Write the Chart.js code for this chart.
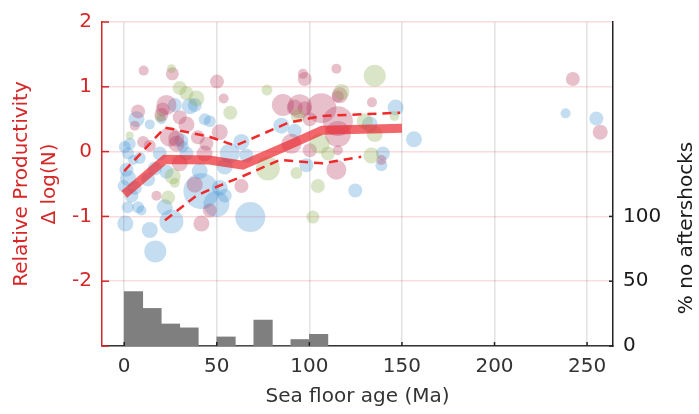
<!DOCTYPE html>
<html>
<head>
<meta charset="utf-8">
<script src="https://cdn.jsdelivr.net/npm/chart.js@4.4.1/dist/chart.umd.min.js"></script>
<style>
  html, body { margin: 0; padding: 0; background: #fff; }
  #wrap { width: 699px; height: 414px; }
</style>
</head>
<body>
<div id="wrap"><canvas id="chart" width="699" height="414"></canvas></div>
<script>
// --- data ---
const xTicks = [0, 50, 100, 150, 200, 250];
const yTicks = [-3, -2, -1, 0, 1, 2];
const pctTicks = [0, 50, 100];

// individual sequences, split by colour group (age Ma, delta log N, marker size)
const pinkAge  = [10.5, 26.0, 22.8, 20.8, 7.5, 5.7, 20.1, 33.6, 30.0, 24.6, 28.2, 39.8, 44.4, 10.2, 13.8, 50.1, 53.7, 96.5, 97.5, 85.7, 92.1, 97.5, 100.2, 51.6, 90.3, 100.2, 63.3, 46.2, 17.4, 38.1, 41.7, 114.6, 115.4, 133.8, 106.5, 115.4, 115.4, 115.4, 114.6, 138.9, 116.4, 94.8, 242.3, 257.1, 28.1, 30.0, 43.4];
const pinkProd = [1.25, 1.20, 0.72, 0.65, 0.62, 0.40, 0.57, 0.42, 0.53, 0.23, 0.12, 0.22, 0.12, 0.15, 0.09, 1.08, 0.82, 1.20, 1.12, 0.72, 0.68, 0.67, 0.50, 0.30, 0.12, 0.02, -0.53, -0.91, -0.68, -0.51, -1.11, 1.28, 0.85, 0.76, 0.67, 0.47, 0.27, 0.02, -0.28, -0.13, 0.87, 0.70, 1.12, 0.30, 0.20, -0.18, -0.03];
const pinkSize = [5, 6.5, 10, 7, 7, 5, 7, 8, 7, 10, 8, 7, 7, 6, 6, 7, 5, 5, 7, 11, 8, 7, 7, 8, 10, 7, 7, 7, 5, 8, 8, 5, 6, 5, 15, 15, 13, 5, 10, 5, 8, 12, 7, 7.5, 8, 8, 8];

const blueAge  = [27.3, 35.4, 38.1, 6.6, 13.8, 20.1, 43.5, 30.9, 0.3, 2.1, 4.8, 1.2, 2.1, 5.7, 3.9, 7.5, 9.3, 0.6, 13.8, 16.8, 25.5, 21.9, 41.7, 12.9, 22.8, 84.9, 92.1, 63.3, 57.0, 66.0, 46.2, 68.1, 51.6, 54.3, 49.8, 98.4, 54.3, 146.6, 132.6, 156.5, 139.7, 124.8, 138.9, 238.4, 255.0, 16.5, -0.3, 1.9, 31.6, 33.6, 40.8, 19.2, 8.4, 3.0];
const blueProd = [0.72, 0.70, 0.72, 0.50, 0.42, 0.50, 0.50, 0.17, 0.07, -0.03, -0.13, -0.28, -0.41, -0.56, -0.68, -0.86, -0.91, -1.11, -1.21, -1.54, -1.08, -0.86, -0.61, -0.43, -0.31, 0.40, 0.32, 0.15, -0.03, -0.06, 0.47, -1.01, -0.56, -0.68, -0.81, -0.21, -0.23, 0.68, 0.42, 0.19, -0.03, -0.60, -0.21, 0.59, 0.51, -0.26, -0.53, -0.86, 0.08, -0.03, -0.30, -0.03, -0.10, 0.12];
const blueSize = [7, 8, 7, 8, 5, 5, 6, 7, 6, 6, 5, 7, 8, 7, 7, 6, 5, 8, 8, 11, 12, 8, 18, 7, 7, 8, 7, 8, 10, 7, 6, 15, 8, 7, 13, 7, 8, 8, 8, 8, 7, 7, 6, 5, 7, 7, 6, 6, 6, 7, 8, 7, 6, 6];

const greenAge  = [25.5, 30.0, 33.6, 39.0, 3.0, 23.7, 27.3, 57.3, 77.1, 93.8, 77.6, 93.0, 101.9, 104.6, 135.3, 117.3, 146.0, 129.9, 135.3, 110.0, 133.5, 105.6, 19.2, 26.2];
const greenProd = [1.28, 0.98, 0.90, 0.82, 0.25, -0.71, -0.48, 0.60, 0.95, 0.55, -0.26, -0.33, -1.01, -0.53, 1.17, 0.92, 0.55, 0.47, 0.27, -0.03, -0.06, 0.12, 0.53, -0.38];
const greenSize = [4.5, 7, 7, 8, 4, 7, 5, 7, 5.5, 7, 12, 6, 6.5, 7, 11, 8, 5, 8, 8, 7, 8, 10, 5, 8];

// binned mean and spread
const meanAge   = [0, 22, 46, 64, 88, 107, 150];
const meanProd  = [-0.66, -0.12, -0.13, -0.21, 0.09, 0.33, 0.36];
const upperAge  = [0, 22, 46, 60, 89, 107, 149];
const upperProd = [-0.30, 0.37, 0.23, 0.09, 0.45, 0.55, 0.60];
const lowerAge  = [22, 39, 46, 64, 84, 107, 128];
const lowerProd = [-1.06, -0.68, -0.59, -0.38, -0.13, -0.18, -0.08];

// share of sequences with no aftershocks, 10 Ma bins
const binStart = [0, 10, 20, 30, 40, 50, 60, 70, 80, 90, 100];
const noAftershockPct = [42, 29, 17, 14, 0, 7, 0, 20, 0, 5, 9];

const RED = '#d62728';
const FONT = "'DejaVu Sans', sans-serif";

function bubbles(ages, prods, sizes) {
  return ages.map((a, i) => ({ x: a, y: prods[i], r: sizes[i] }));
}
function pts(ages, vals) {
  return ages.map((a, i) => ({ x: a, y: vals[i] }));
}

// inward tick marks + right-hand axis title
const extras = {
  id: 'extras',
  afterDraw(chart) {
    const { ctx, chartArea } = chart;
    const sx = chart.scales.x, sy = chart.scales.y, s2 = chart.scales.y2;
    ctx.save();
    ctx.lineWidth = 1.5;
    ctx.strokeStyle = RED;
    yTicks.forEach(v => {
      const py = sy.getPixelForValue(v);
      ctx.beginPath(); ctx.moveTo(chartArea.left, py); ctx.lineTo(chartArea.left + 7, py); ctx.stroke();
    });
    ctx.strokeStyle = '#222';
    pctTicks.forEach(v => {
      const py = s2.getPixelForValue(v);
      ctx.beginPath(); ctx.moveTo(chartArea.right, py); ctx.lineTo(chartArea.right - 4, py); ctx.stroke();
    });
    xTicks.forEach(v => {
      const px = sx.getPixelForValue(v);
      ctx.beginPath(); ctx.moveTo(px, chartArea.bottom); ctx.lineTo(px, chartArea.bottom - 4); ctx.stroke();
    });
    ctx.translate(687, 228);
    ctx.rotate(-Math.PI / 2);
    ctx.fillStyle = '#1a1a1a';
    ctx.font = "20px " + FONT;
    ctx.textAlign = 'center';
    ctx.textBaseline = 'middle';
    ctx.fillText('% no aftershocks', 0, 0);
    ctx.restore();
  }
};

new Chart(document.getElementById('chart'), {
  data: {
    datasets: [
      { type: 'bubble', data: bubbles(pinkAge, pinkProd, pinkSize), backgroundColor: 'rgba(185,70,105,0.34)', borderWidth: 0, yAxisID: 'y', order: 6 },
      { type: 'bubble', data: bubbles(blueAge, blueProd, blueSize), backgroundColor: 'rgba(70,150,210,0.32)', borderWidth: 0, yAxisID: 'y', order: 7 },
      { type: 'bubble', data: bubbles(greenAge, greenProd, greenSize), backgroundColor: 'rgba(140,175,80,0.32)', borderWidth: 0, yAxisID: 'y', order: 5 },
      {
        type: 'bar',
        data: binStart.map((b, i) => ({ x: b + 5, y: noAftershockPct[i] })),
        backgroundColor: '#7f7f7f', borderWidth: 0,
        barPercentage: 1, categoryPercentage: 1,
        yAxisID: 'y2', order: 4
      },
      { type: 'line', data: pts(upperAge, upperProd), borderColor: '#f02a2a', borderWidth: 2.5, borderDash: [9, 6], pointRadius: 0, fill: false, tension: 0, yAxisID: 'y', order: 2 },
      { type: 'line', data: pts(lowerAge, lowerProd), borderColor: '#f02a2a', borderWidth: 2.5, borderDash: [9, 6], pointRadius: 0, fill: false, tension: 0, yAxisID: 'y', order: 2 },
      { type: 'line', data: pts(meanAge, meanProd), borderColor: 'rgba(235,45,50,0.72)', borderWidth: 9, pointRadius: 0, fill: false, tension: 0, yAxisID: 'y', order: 1 }
    ]
  },
  options: {
    responsive: false,
    animation: false,
    layout: { autoPadding: false, padding: { top: 15, left: 0, right: 0, bottom: 0 } },
    plugins: { legend: { display: false }, tooltip: { enabled: false } },
    scales: {
      x: {
        type: 'linear', position: 'bottom', min: -12, max: 264, offset: false,
        afterBuildTicks: s => { s.ticks = xTicks.map(v => ({ value: v })); },
        afterFit: s => { s.height = 68; },
        grid: { color: '#e2e2e2', lineWidth: 1.5, drawTicks: false, offset: false },
        border: { color: '#333', width: 1.5 },
        ticks: { color: '#333', font: { family: FONT, size: 20 }, padding: 9, maxRotation: 0 },
        title: { display: true, text: 'Sea floor age (Ma)', color: '#333', font: { family: FONT, size: 20 }, padding: { top: 0, bottom: 5 } }
      },
      y: {
        type: 'linear', position: 'left', min: -3, max: 2,
        afterBuildTicks: s => { s.ticks = yTicks.map(v => ({ value: v })); },
        afterFit: s => { s.width = 102; },
        grid: { color: 'rgba(225,80,90,0.2)', lineWidth: 1.5, drawTicks: false },
        border: { color: RED, width: 1.5 },
        ticks: { color: RED, font: { family: FONT, size: 20 }, padding: 10, callback: v => (v === -3 ? '' : v) },
        title: { display: true, text: ['Relative Productivity', '\u0394 log(N)'], color: RED, font: { family: FONT, size: 20, lineHeight: 1.4 }, padding: { top: 8, bottom: 0 } }
      },
      y2: {
        type: 'linear', position: 'right', min: 0, max: 250,
        afterBuildTicks: s => { s.ticks = pctTicks.map(v => ({ value: v })); },
        afterFit: s => { s.width = 86; },
        grid: { display: false, drawTicks: false },
        border: { color: '#222', width: 1.5 },
        ticks: { color: '#1a1a1a', font: { family: FONT, size: 20 }, padding: 10 }
      }
    }
  },
  plugins: [extras]
});
</script>
</body>
</html>
